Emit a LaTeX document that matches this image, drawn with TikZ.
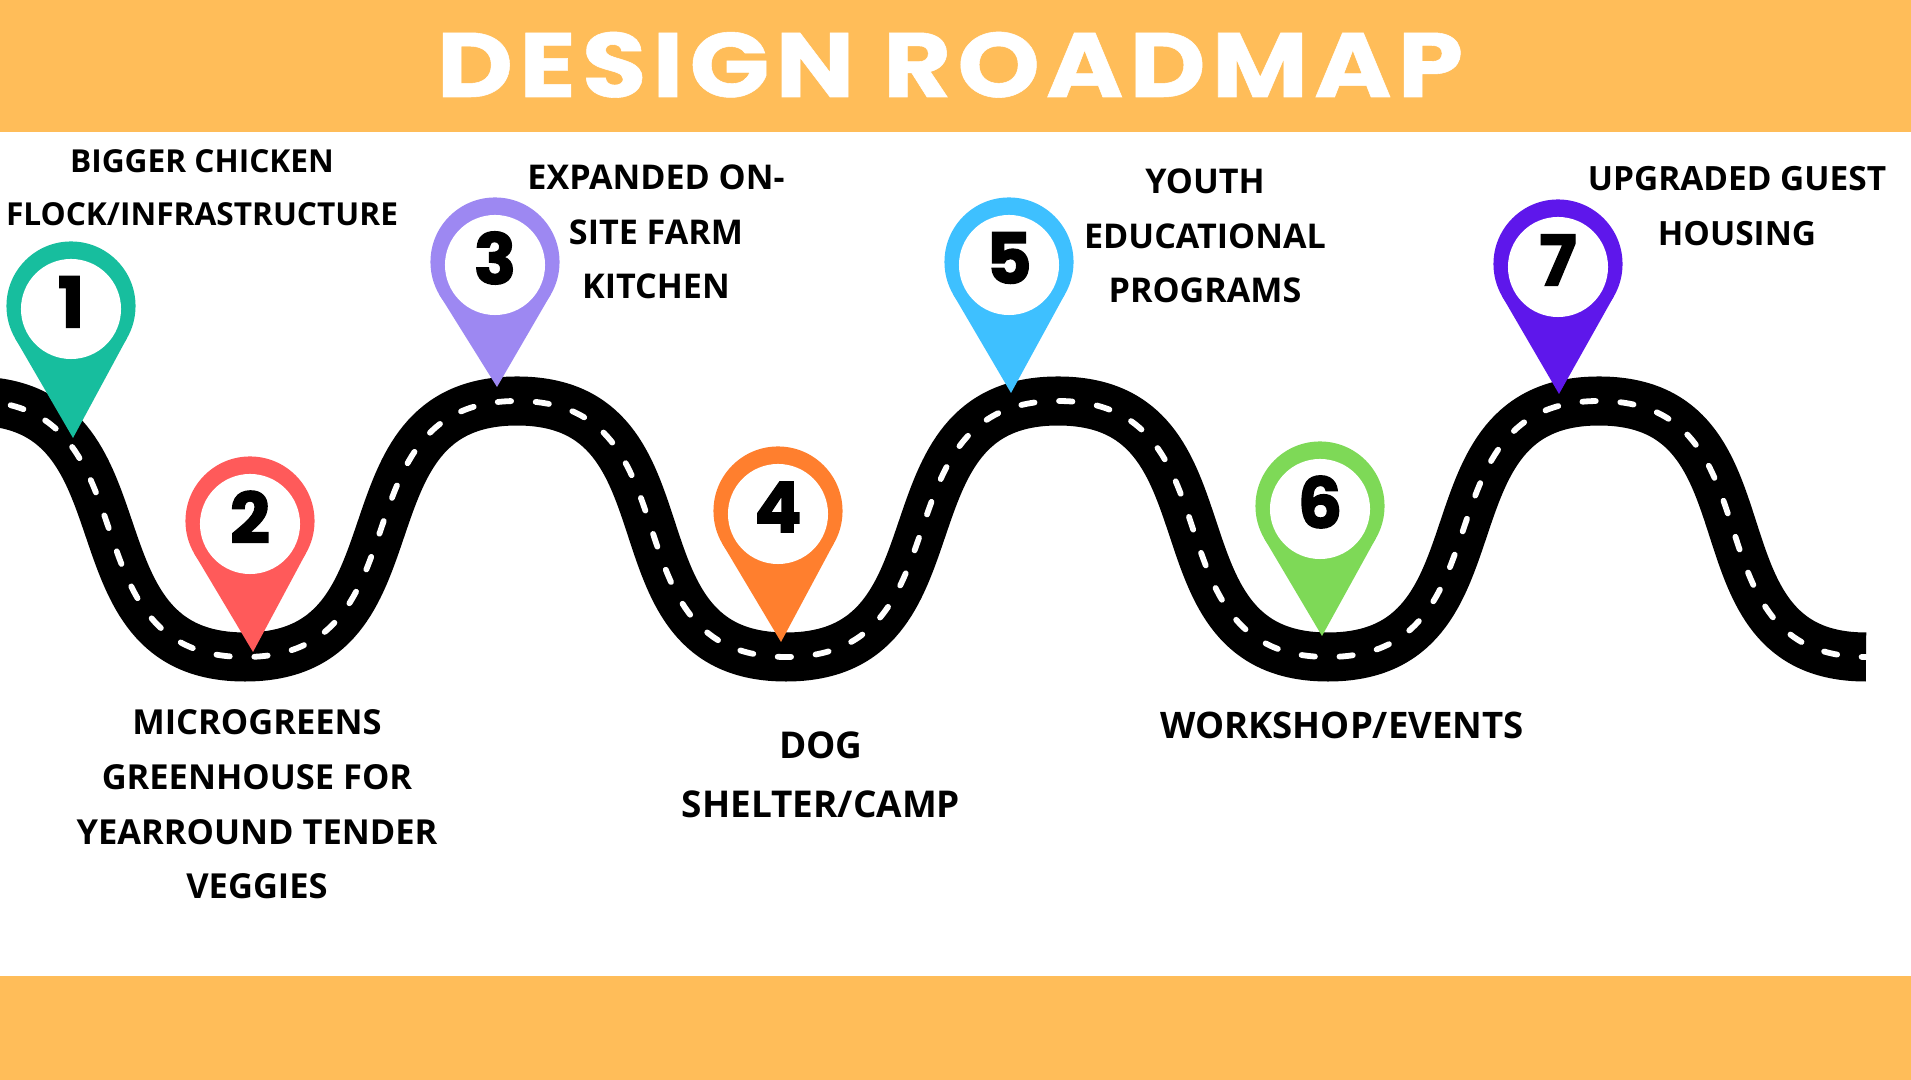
\documentclass[tikz,border=0pt]{standalone}
\usepackage{fontspec}
\newfontfamily\titlefont{Poppins}[LetterSpace=6.5, FakeStretch=1.15, FakeBold=0.6]
\newfontfamily\numfont{Poppins}[FakeBold=2]
\newfontfamily\labfont{Open Sans}
\definecolor{band}{HTML}{FFBD59}
\definecolor{cA}{HTML}{17BE9E}
\definecolor{cB}{HTML}{FF5A5A}
\definecolor{cC}{HTML}{9D88F2}
\definecolor{cD}{HTML}{FF7F2E}
\definecolor{cE}{HTML}{3EC0FF}
\definecolor{cF}{HTML}{7ED957}
\definecolor{cG}{HTML}{5E17EB}
\tikzset{
  pinhead/.style={circle, minimum size=1.29cm, inner sep=0pt, outer sep=0pt},
  innerc/.style={circle, fill=white, minimum size=1.0cm, inner sep=0pt, outer sep=0pt},
  numtxt/.style={font=\numfont\bfseries\fontsize{19.9}{20}\selectfont, inner sep=0pt, text=black},
  lab/.style={font=\labfont\bfseries\fontsize{#1}{10}\selectfont, inner sep=0pt, anchor=base, text=black},
  lab/.default=9,
  roadline/.style={line width=0.49cm, black,
    postaction={draw, white, line width=0.058cm, line cap=round, dash pattern=on 3.8pt off 7pt}}
}
\newcommand\mypin[8]{%
  \node[pinhead, fill=#4] (h#1) at (#2,#3) {};
  \coordinate (k#1) at (#6,#7);
  \fill[#4] (h#1.-30) -- (k#1) -- (h#1.210) -- (h#1.center) -- cycle;
  \node[innerc] (w#1) at (#2,#3+3) {};
  \node[numtxt] (n#1) at (#2,#3-4) {#5};
}
\begin{document}
\begin{tikzpicture}[x=0.01cm,y=-0.01cm]
\useasboundingbox (0,0) rectangle (1911,1080);
\fill[white] (0,0) rectangle (1911,1080);
\fill[band] (0,0) rectangle (1911,132);
\fill[band] (0,976) rectangle (1911,1080);
\node[font=\titlefont\bfseries\fontsize{26}{30}\selectfont, text=white, anchor=base, inner sep=0pt] (title) at (950,97) {DESIGN ROADMAP};
\begin{scope}
\clip (0,132) rectangle (1911,976);
\draw[roadline] (-27,401) .. controls (158,401) and (60,657) .. (245,657)
  .. controls (430,657) and (332,401) .. (517,401)
  .. controls (702,401) and (601,657) .. (786,657)
  .. controls (971,657) and (873,401) .. (1058,401)
  .. controls (1243,401) and (1143,657) .. (1328,657)
  .. controls (1513,657) and (1414,401) .. (1599,401)
  .. controls (1784,401) and (1682,657) .. (1866,657);
\end{scope}
\mypin{1}{71}{306}{cA}{1}{73}{438}{}
\mypin{2}{250}{521}{cB}{2}{253}{652}{}
\mypin{3}{495}{262}{cC}{3}{497}{387}{}
\mypin{4}{778}{511}{cD}{4}{781}{642}{}
\mypin{5}{1009}{262}{cE}{5}{1011}{393}{}
\mypin{6}{1320}{506}{cF}{6}{1322}{636}{}
\mypin{7}{1558}{264}{cG}{7}{1559}{394}{}
% labels
\node[lab] (t1a) at (202,173) {BIGGER CHICKEN};
\node[lab] (t1b) at (202,226) {FLOCK/INFRASTRUCTURE};
\node[lab=9.7] (t3a) at (656,190) {EXPANDED ON-};
\node[lab=9.7] (t3b) at (656,245) {SITE FARM};
\node[lab=9.7] (t3c) at (656,299) {KITCHEN};
\node[lab=9.7] (t5a) at (1205,194) {YOUTH};
\node[lab=9.7] (t5b) at (1205,249) {EDUCATIONAL};
\node[lab=9.7] (t5c) at (1205,303) {PROGRAMS};
\node[lab=9.5] (t7a) at (1737,191) {UPGRADED GUEST};
\node[lab=9.5] (t7b) at (1737,246) {HOUSING};
\node[lab=9.8] (t2a) at (257,735) {MICROGREENS};
\node[lab=9.8] (t2b) at (257,790) {GREENHOUSE FOR};
\node[lab=9.8] (t2c) at (257,845) {YEARROUND TENDER};
\node[lab=9.8] (t2d) at (257,899) {VEGGIES};
\node[lab=10.5] (t4a) at (821,759) {DOG};
\node[lab=10.5] (t4b) at (821,818) {SHELTER/CAMP};
\node[lab=10.4] (t6a) at (1342,739) {WORKSHOP/EVENTS};
\end{tikzpicture}
\end{document}
